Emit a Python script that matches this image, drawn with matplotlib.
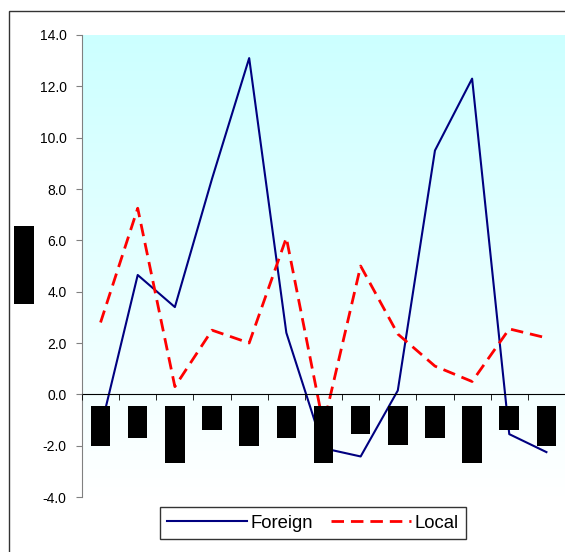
import numpy as np
import matplotlib
matplotlib.use('Agg')
import matplotlib.pyplot as plt
from matplotlib.colors import LinearSegmentedColormap
from matplotlib.patches import Rectangle

plt.rcParams['font.family'] = ['Liberation Sans', 'DejaVu Sans']

# data
periods = ['1Q97', 'Jun.', 'Sept. 97', 'Q4', '1Q98', 'Jun.', 'Sept. 98',
           'Q4.', '1Q99', 'Jun.', 'Sept. 99', 'Q4', '1Q00']
foreign = [-1.35, 4.65, 3.4, 8.4, 13.1, 2.4, -2.1, -2.42, 0.15, 9.5, 12.3, -1.55, -2.25]
local = [2.8, 7.25, 0.3, 2.5, 2.0, 6.1, -1.2, 5.0, 2.35, 1.1, 0.5, 2.55, 2.2]
y_label = 'Growth rate'

fig = plt.figure(figsize=(5.65, 5.52), dpi=100)
ax = fig.add_axes([0.1451, 0.0996, 0.8549, 0.837])

# outer chart border (cut off at right and bottom)
fig.patches.append(Rectangle((9 / 565, -0.1), 1.2, 1.1 - 11 / 552,
                             transform=fig.transFigure, fill=False,
                             edgecolor='#333333', lw=1.0))

# gradient plot area, light cyan at top to white at bottom
cmap = LinearSegmentedColormap.from_list('bg', ['#ffffff', '#ccffff'])
grad = np.linspace(0, 1, 256).reshape(-1, 1)
ax.imshow(grad, cmap=cmap, extent=[0, 1, 0, 1], transform=ax.transAxes,
          origin='lower', aspect='auto', zorder=0)
ax.patch.set_visible(False)

x = np.arange(len(periods))
ax.plot(x, foreign, color='#000080', lw=1.5, label='Foreign', zorder=2)
ax.plot(x, local, color='#ff0000', lw=2, dashes=(4.5, 2.5), label='Local', zorder=2)

ax.set_xlim(-0.5, len(periods) - 0.5)
ax.set_ylim(-4, 14)
ax.set_yticks(np.arange(-4, 14.1, 2))
ax.set_yticklabels(['%.1f' % v for v in np.arange(-4, 14.1, 2)])
ax.tick_params(axis='y', length=4, color='#808080', labelsize=10, pad=7)

for s in ['top', 'right']:
    ax.spines[s].set_visible(False)
ax.spines['left'].set_color('#808080')
ax.spines['bottom'].set_position(('data', 0))
ax.spines['bottom'].set_color('black')

ax.set_xticks(x)
ax.set_xticks(np.arange(-0.5, len(periods)), minor=True)
ax.tick_params(axis='x', which='major', length=0, pad=10.6, labelsize=10)
ax.tick_params(axis='x', which='minor', length=4, color='black')
ax.set_xticklabels(periods, rotation=90, va='top')
for t in ax.get_xticklabels():
    t.set_color('black')
    t.set_bbox(dict(facecolor='black', edgecolor='none', pad=2))
ax.set_axisbelow(False)

fig.text(24 / 565, 1 - 265 / 552, y_label, rotation=90, ha='center', va='center',
         fontsize=10, color='black',
         bbox=dict(facecolor='black', edgecolor='none', pad=2))

leg = fig.legend(loc='center', bbox_to_anchor=(313 / 565, 1 - 523 / 552), ncol=2,
                 fontsize=13.3, frameon=True, fancybox=False, borderpad=0.4,
                 handlelength=4.3, handletextpad=0.2, columnspacing=1.0,
                 borderaxespad=0)
leg.get_frame().set_edgecolor('black')
leg.get_frame().set_linewidth(1.0)

fig.savefig('out.png', dpi=100)
